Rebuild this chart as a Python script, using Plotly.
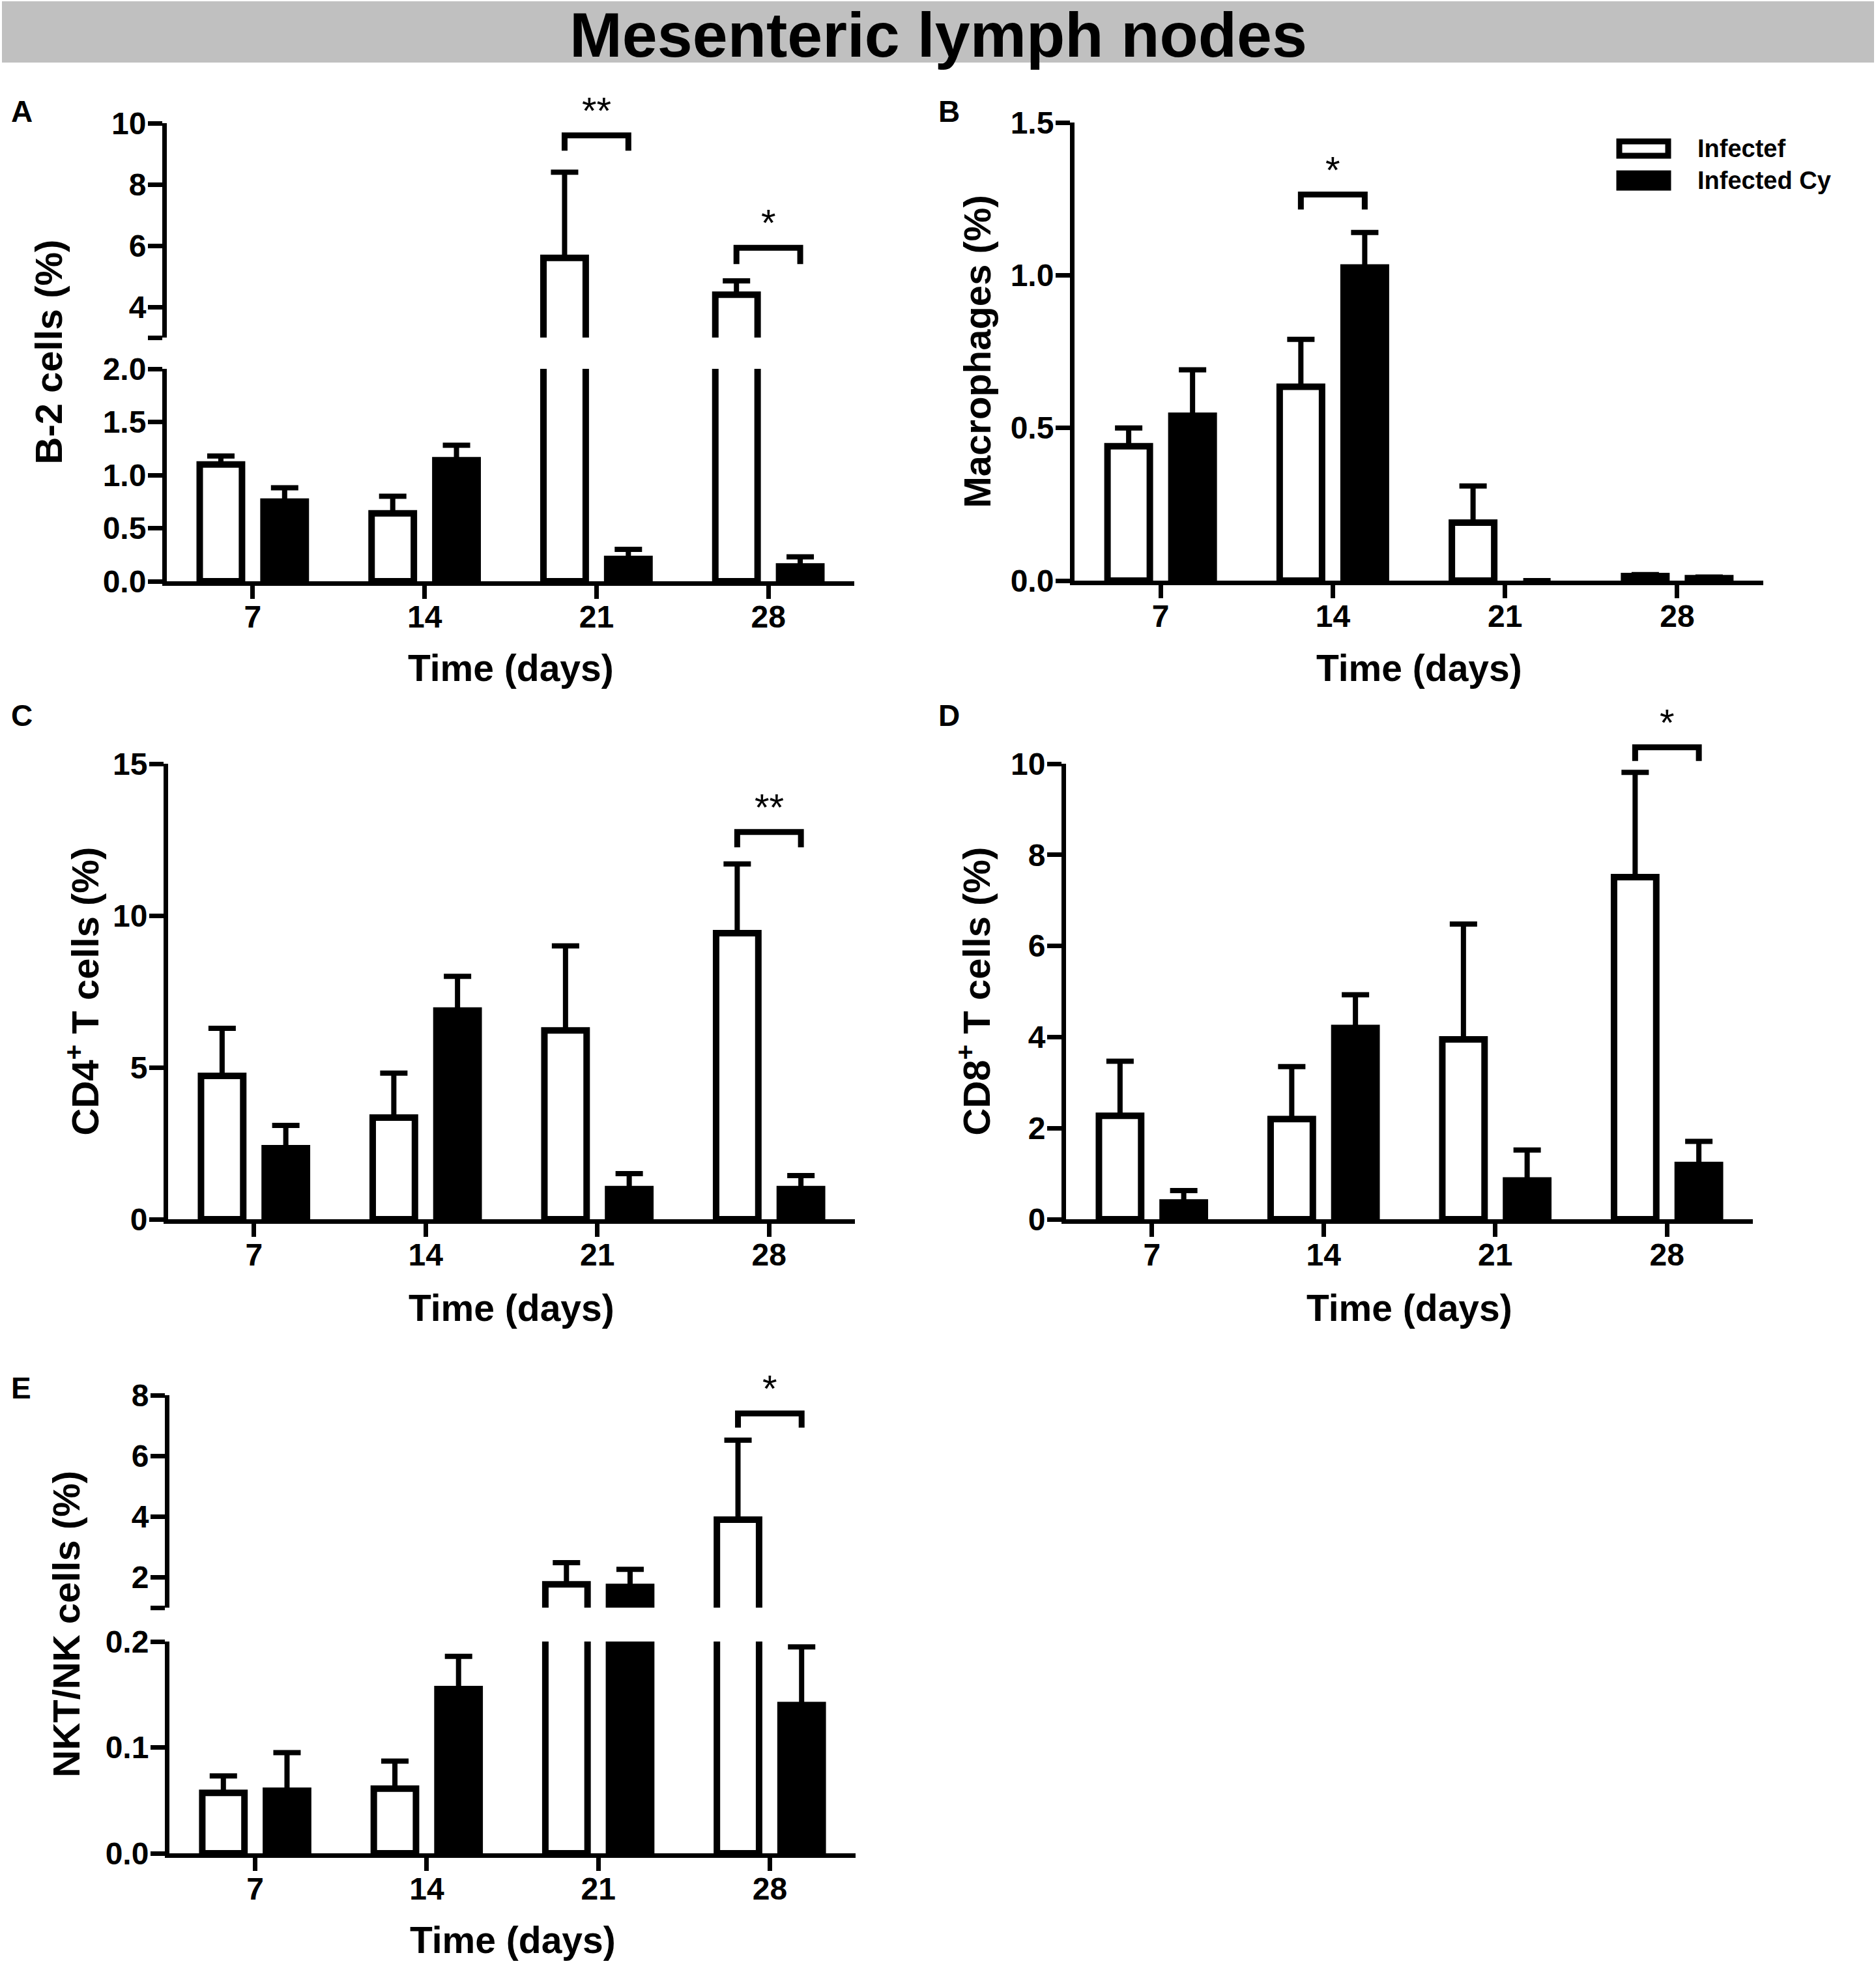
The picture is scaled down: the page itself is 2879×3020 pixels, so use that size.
import plotly.graph_objects as go

# Mesenteric lymph nodes - cell populations, infected vs infected + Cy

W, H = 2879, 3020
FONT = "Liberation Sans, Arial, Helvetica, sans-serif"

days = [7, 14, 21, 28]
series_names = ["Infectef", "Infected Cy"]

# A - B-2 cells (%)
b2_inf = [1.10, 0.64, 5.60, 4.40]
b2_inf_err = [0.08, 0.16, 2.80, 0.45]
b2_cy = [0.75, 1.14, 0.21, 0.14]
b2_cy_err = [0.13, 0.14, 0.09, 0.09]

# B - Macrophages (%)
mac_inf = [0.44, 0.635, 0.19, 0.015]
mac_inf_err = [0.06, 0.155, 0.12, 0.005]
mac_cy = [0.54, 1.025, 0.0, 0.008]
mac_cy_err = [0.15, 0.115, 0.0, 0.004]

# C - CD4+ T cells (%)
cd4_inf = [4.72, 3.35, 6.22, 9.42]
cd4_inf_err = [1.57, 1.46, 2.78, 2.28]
cd4_cy = [2.34, 6.87, 0.99, 0.99]
cd4_cy_err = [0.75, 1.13, 0.51, 0.45]

# D - CD8+ T cells (%)
cd8_inf = [2.27, 2.20, 3.95, 7.51]
cd8_inf_err = [1.20, 1.15, 2.53, 2.30]
cd8_cy = [0.37, 4.20, 0.85, 1.19]
cd8_cy_err = [0.26, 0.73, 0.67, 0.52]

# E - NKT/NK cells (%)
nk_inf = [0.057, 0.061, 1.77, 3.90]
nk_inf_err = [0.016, 0.026, 0.71, 2.62]
nk_cy = [0.059, 0.155, 1.68, 0.14]
nk_cy_err = [0.036, 0.031, 0.58, 0.055]

# significance brackets: (day, bracket level, leg end level, label)
sig_a = [(21, 9.6, 9.1, "**"), (28, 5.93, 5.4, "*")]
sig_b = [(14, 1.264, 1.215, "*")]
sig_c = [(28, 12.75, 12.25, "**")]
sig_d = [(28, 10.36, 10.06, "*")]
sig_e = [(28, 7.4, 6.93, "*")]

BARGAP = 0.258
BARGROUPGAP = 0.337


def fx(p):
    return p / W


def fy(p):
    return 1 - p / H


def axkey(ref):
    return ref[0] + "axis" + ref[1:]


# each panel: letter, x axis, x pixel span, list of y segments, data, title
panels = [
    dict(letter="A", letter_pos=(15, 171), x="x", xspan=(256, 1311),
         ys=[dict(ref="y", span=(892, 566), rng=[0, 2], tickvals=[0, 0.5, 1, 1.5, 2],
                  ticktext=["0.0", "0.5", "1.0", "1.5", "2.0"]),
             dict(ref="y2", span=(518, 189), rng=[3, 10], tickvals=[4, 6, 8, 10],
                  ticktext=["4", "6", "8", "10"], brk=[3])],
         data=(b2_inf, b2_inf_err, b2_cy, b2_cy_err), sig=sig_a, sig_y="y2",
         ytitle="B-2 cells (%)", ytitle_x=74, xtitle_y=1025),
    dict(letter="B", letter_pos=(1438, 171), x="x2", xspan=(1649, 2706),
         ys=[dict(ref="y3", span=(891, 188), rng=[0, 1.5], tickvals=[0, 0.5, 1, 1.5],
                  ticktext=["0.0", "0.5", "1.0", "1.5"])],
         data=(mac_inf, mac_inf_err, mac_cy, mac_cy_err), sig=sig_b, sig_y="y3",
         ytitle="Macrophages (%)", ytitle_x=1499, xtitle_y=1025),
    dict(letter="C", letter_pos=(15, 1098), x="x3", xspan=(258, 1312),
         ys=[dict(ref="y4", span=(1871, 1172), rng=[0, 15], tickvals=[0, 5, 10, 15],
                  ticktext=["0", "5", "10", "15"])],
         data=(cd4_inf, cd4_inf_err, cd4_cy, cd4_cy_err), sig=sig_c, sig_y="y4",
         ytitle="CD4<sup>+</sup> T cells (%)", ytitle_x=126, xtitle_y=2007),
    dict(letter="D", letter_pos=(1438, 1098), x="x4", xspan=(1636, 2690),
         ys=[dict(ref="y5", span=(1871, 1172), rng=[0, 10], tickvals=[0, 2, 4, 6, 8, 10],
                  ticktext=["0", "2", "4", "6", "8", "10"])],
         data=(cd8_inf, cd8_inf_err, cd8_cy, cd8_cy_err), sig=sig_d, sig_y="y5",
         ytitle="CD8<sup>+</sup> T cells (%)", ytitle_x=1494, xtitle_y=2007),
    dict(letter="E", letter_pos=(15, 2130), x="x5", xspan=(260, 1313),
         ys=[dict(ref="y6", span=(2844, 2519), rng=[0, 0.2], tickvals=[0, 0.1, 0.2],
                  ticktext=["0.0", "0.1", "0.2"]),
             dict(ref="y7", span=(2467, 2141), rng=[1, 8], tickvals=[2, 4, 6, 8],
                  ticktext=["2", "4", "6", "8"], brk=[1])],
         data=(nk_inf, nk_inf_err, nk_cy, nk_cy_err), sig=sig_e, sig_y="y7",
         ytitle="NKT/NK cells (%)", ytitle_x=101, xtitle_y=2977),
]

fig = go.Figure()
layout = dict(
    width=W, height=H,
    margin=dict(l=0, r=0, t=0, b=0, pad=0, autoexpand=False),
    paper_bgcolor="white", plot_bgcolor="rgba(0,0,0,0)",
    showlegend=False,
    barmode="group", bargap=BARGAP, bargroupgap=BARGROUPGAP,
    font=dict(family=FONT, color="black", weight="bold"),
)
shapes = []
annotations = []

tickfont = dict(family=FONT, size=48, color="black", weight="bold")
offset = 7 * (1 - BARGAP) / 4  # distance from group centre to each bar centre

for p in panels:
    inf, inf_err, cy, cy_err = p["data"]
    first_y = p["ys"][0]["ref"]
    layout[axkey(p["x"])] = dict(
        domain=[fx(p["xspan"][0]), fx(p["xspan"][1])],
        anchor=first_y, range=[3.5, 31.5], automargin=False,
        tickvals=days, ticktext=[str(d) for d in days],
        ticks="outside", ticklen=20, tickwidth=7, tickcolor="black",
        ticklabelstandoff=-14,
        showline=True, linewidth=7, linecolor="black",
        showgrid=False, zeroline=False, tickfont=tickfont, fixedrange=True,
    )
    for seg in p["ys"]:
        yax = dict(
            domain=[fy(seg["span"][0]), fy(seg["span"][1])],
            anchor=p["x"], range=seg["rng"], automargin=False,
            tickvals=seg["tickvals"], ticktext=seg["ticktext"],
            ticks="outside", ticklen=22, tickwidth=7, tickcolor="black",
            ticklabelstandoff=-7,
            showline=True, linewidth=7, linecolor="black",
            showgrid=False, zeroline=False, tickfont=tickfont, fixedrange=True,
        )
        if "brk" in seg:
            # unlabelled tick that closes the lower end of the upper segment
            yax["minor"] = dict(tickmode="array", tickvals=seg["brk"], ticks="outside",
                                ticklen=22, tickwidth=7, tickcolor="black", showgrid=False)
        layout[axkey(seg["ref"])] = yax
        for vals, errs, fill, name in ((inf, inf_err, "white", series_names[0]),
                                       (cy, cy_err, "black", series_names[1])):
            # a missing bar (value 0) gets neither outline nor error cap
            fig.add_trace(go.Bar(
                x=days, y=vals, name=name,
                xaxis=p["x"], yaxis=seg["ref"],
                marker=dict(color=fill, line=dict(
                    color="black", width=[10 if v else 0 for v in vals])),
                error_y=dict(type="data", symmetric=False,
                             array=[e if v else None for v, e in zip(vals, errs)],
                             arrayminus=[0] * len(errs),
                             color="black", thickness=8, width=21),
                hoverinfo="x+y",
            ))

    # significance brackets and stars
    sig_seg = [s for s in p["ys"] if s["ref"] == p["sig_y"]][0]
    lo, hi = sig_seg["rng"]
    for day, top, leg, label in p["sig"]:
        yt = (top - lo) / (hi - lo)
        yl = (leg - lo) / (hi - lo)
        x0, x1 = day - offset, day + offset
        shapes.append(dict(
            type="path", xref=p["x"], yref=p["sig_y"] + " domain",
            path=f"M {x0},{yl} L {x0},{yt} L {x1},{yt} L {x1},{yl}",
            line=dict(color="black", width=9),
        ))
        annotations.append(dict(
            text=label, xref=p["x"], yref=p["sig_y"] + " domain",
            x=day, y=yt, xanchor="center", yanchor="bottom", yshift=4,
            showarrow=False,
            font=dict(family=FONT, size=58, color="black", weight="normal"),
        ))

    # panel letter
    annotations.append(dict(
        text=p["letter"], xref="paper", yref="paper",
        x=fx(p["letter_pos"][0]), y=fy(p["letter_pos"][1]),
        xanchor="left", yanchor="middle", showarrow=False,
        font=dict(family=FONT, size=46, color="black", weight="bold"),
    ))
    # y title, centred over all segments
    y_lo = layout[axkey(p["ys"][0]["ref"])]["domain"][0]
    y_hi = layout[axkey(p["ys"][-1]["ref"])]["domain"][1]
    annotations.append(dict(
        text=p["ytitle"], xref="paper", yref="paper",
        x=fx(p["ytitle_x"]), y=(y_lo + y_hi) / 2, textangle=-90,
        xanchor="center", yanchor="middle", showarrow=False,
        font=dict(family=FONT, size=58, color="black", weight="bold"),
    ))
    # x title
    annotations.append(dict(
        text="Time (days)", xref=p["x"] + " domain", yref="paper",
        x=0.5, y=fy(p["xtitle_y"]), xanchor="center", yanchor="middle",
        showarrow=False,
        font=dict(family=FONT, size=57, color="black", weight="bold"),
    ))

# header band
shapes.append(dict(type="rect", xref="paper", yref="paper",
                   x0=fx(3), x1=fx(2876), y0=fy(96), y1=fy(2),
                   fillcolor="#c0c0c0", line=dict(width=0), layer="below"))
annotations.append(dict(
    text="Mesenteric lymph nodes", xref="paper", yref="paper",
    x=0.5, y=fy(53), xanchor="center", yanchor="middle", showarrow=False,
    font=dict(family=FONT, size=97, color="black", weight="bold"),
))

# legend (panel B)
legend_rows = [(228, "white"), (277, "black")]
for (yc, fill), name in zip(legend_rows, series_names):
    shapes.append(dict(type="rect", xref="paper", yref="paper",
                       x0=fx(2485), x1=fx(2560), y0=fy(yc + 11), y1=fy(yc - 11),
                       fillcolor=fill, line=dict(color="black", width=9)))
    annotations.append(dict(
        text=name, xref="paper", yref="paper", x=fx(2603), y=fy(yc),
        xanchor="left", yanchor="middle", showarrow=False,
        font=dict(family=FONT, size=38, color="black", weight="bold"),
    ))

layout["shapes"] = shapes
layout["annotations"] = annotations
fig.update_layout(layout)

# drop the default page margin so the figure sits at the window's corner
fig.write_html("out.html", config={"displayModeBar": False},
               post_script="document.body.style.margin = '0px';")
